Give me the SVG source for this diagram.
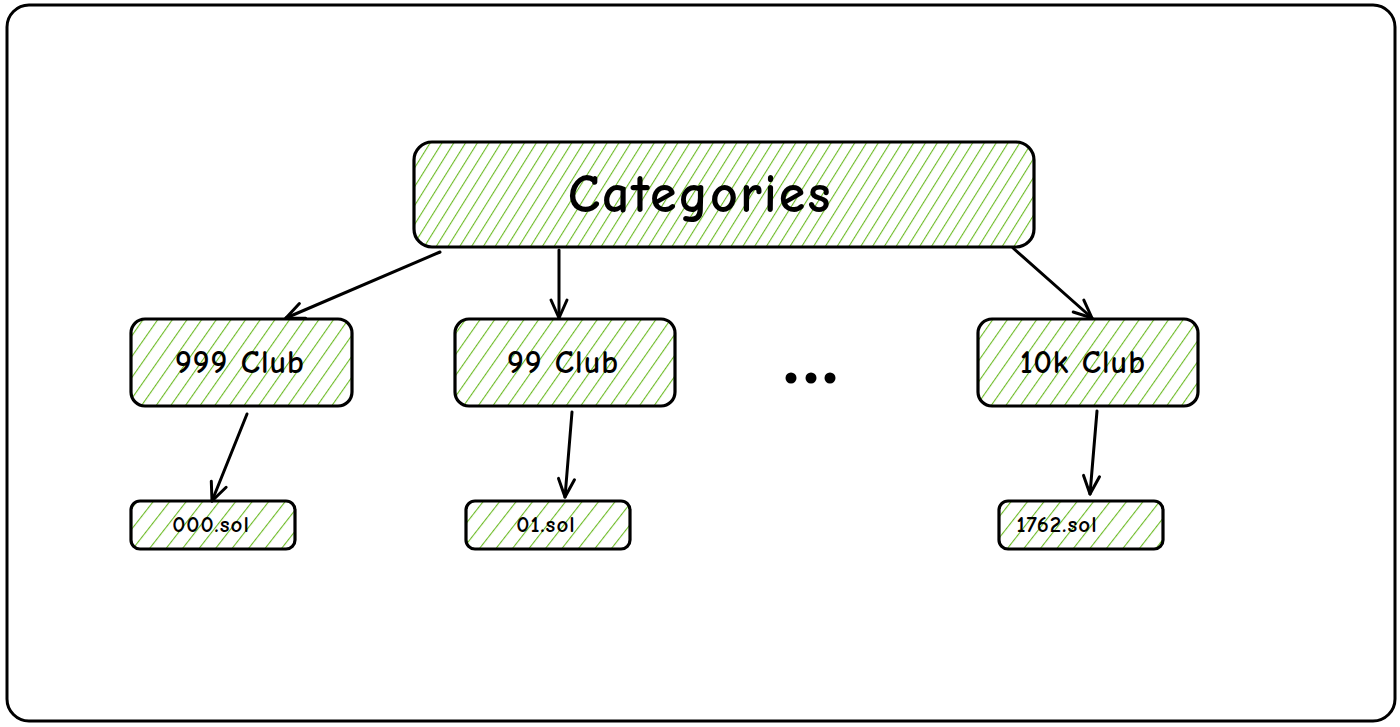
<svg xmlns="http://www.w3.org/2000/svg" width="1400" height="727" viewBox="0 0 1400 727">
<defs>
<pattern id="hatchL" width="10" height="10" patternUnits="userSpaceOnUse" patternTransform="rotate(32)">
<line x1="0" y1="0" x2="0" y2="10" stroke="#6dbb27" stroke-width="2.2"/>
</pattern>
<pattern id="hatchM" width="12" height="12" patternUnits="userSpaceOnUse" patternTransform="rotate(35)">
<line x1="0" y1="0" x2="0" y2="12" stroke="#6dbb27" stroke-width="2.2"/>
</pattern>
<pattern id="hatchS" width="13" height="13" patternUnits="userSpaceOnUse" patternTransform="rotate(38)">
<line x1="0" y1="0" x2="0" y2="13" stroke="#6dbb27" stroke-width="2.2"/>
</pattern>
<marker id="arr" viewBox="0 0 24 24" refX="21" refY="12" markerWidth="24" markerHeight="24" markerUnits="userSpaceOnUse" orient="auto">
<path d="M3,4 L21,12 L3,20" fill="none" stroke="#000" stroke-width="3" stroke-linecap="round" stroke-linejoin="round"/>
</marker>
</defs>
<style>
.box{stroke:#000;stroke-width:3.2}
.lbl{font-family:"Comic Neue","Lato","Liberation Sans",sans-serif;fill:#000;text-anchor:middle;dominant-baseline:central;font-weight:bold}
.conn{stroke:#000;stroke-width:3;fill:none;stroke-linecap:round;marker-end:url(#arr)}
</style>
<rect x="0" y="0" width="1400" height="727" fill="#fff"/>
<rect id="frame" x="7" y="5" width="1388" height="716" rx="22" fill="none" stroke="#000" stroke-width="3"/>

<g id="categories">
<rect class="box" x="414" y="142" width="620" height="105" rx="18" fill="url(#hatchL)"/>
<text class="lbl" x="700" y="194" font-size="54" letter-spacing="2">Categories</text>
</g>
<g id="club999">
<rect class="box" x="131" y="319" width="221" height="87" rx="14" fill="url(#hatchM)"/>
<text class="lbl" x="240" y="362" font-size="32" letter-spacing="1">999 Club</text>
</g>
<g id="club99">
<rect class="box" x="455" y="319" width="220" height="87" rx="14" fill="url(#hatchM)"/>
<text class="lbl" x="563" y="362" font-size="32" letter-spacing="1">99 Club</text>
</g>
<g id="club10k">
<rect class="box" x="978" y="319" width="220" height="87" rx="14" fill="url(#hatchM)"/>
<text class="lbl" x="1083" y="362" font-size="32" letter-spacing="1">10k Club</text>
</g>
<g id="ellipsis">
<circle cx="791" cy="378" r="5.5" fill="#000"/>
<circle cx="811" cy="378" r="5.5" fill="#000"/>
<circle cx="830" cy="378" r="5.5" fill="#000"/>
</g>
<g id="sol000">
<rect class="box" x="131" y="501" width="164" height="48" rx="9" fill="url(#hatchS)"/>
<text class="lbl" x="211" y="524" font-size="23" letter-spacing="1">000.sol</text>
</g>
<g id="sol01">
<rect class="box" x="466" y="501" width="164" height="48" rx="9" fill="url(#hatchS)"/>
<text class="lbl" x="546" y="524" font-size="23" letter-spacing="1">01.sol</text>
</g>
<g id="sol1762">
<rect class="box" x="999" y="501" width="164" height="48" rx="9" fill="url(#hatchS)"/>
<text class="lbl" x="1057" y="524" font-size="23" letter-spacing="1">1762.sol</text>
</g>

<g id="connectors">
<line class="conn" x1="440" y1="252" x2="286" y2="318"/>
<line class="conn" x1="559" y1="250" x2="559" y2="318"/>
<line class="conn" x1="1013" y1="248" x2="1092" y2="318"/>
<line class="conn" x1="247" y1="414" x2="212" y2="501"/>
<line class="conn" x1="572" y1="412" x2="565" y2="497"/>
<line class="conn" x1="1097" y1="411" x2="1090" y2="494"/>
</g>
</svg>
